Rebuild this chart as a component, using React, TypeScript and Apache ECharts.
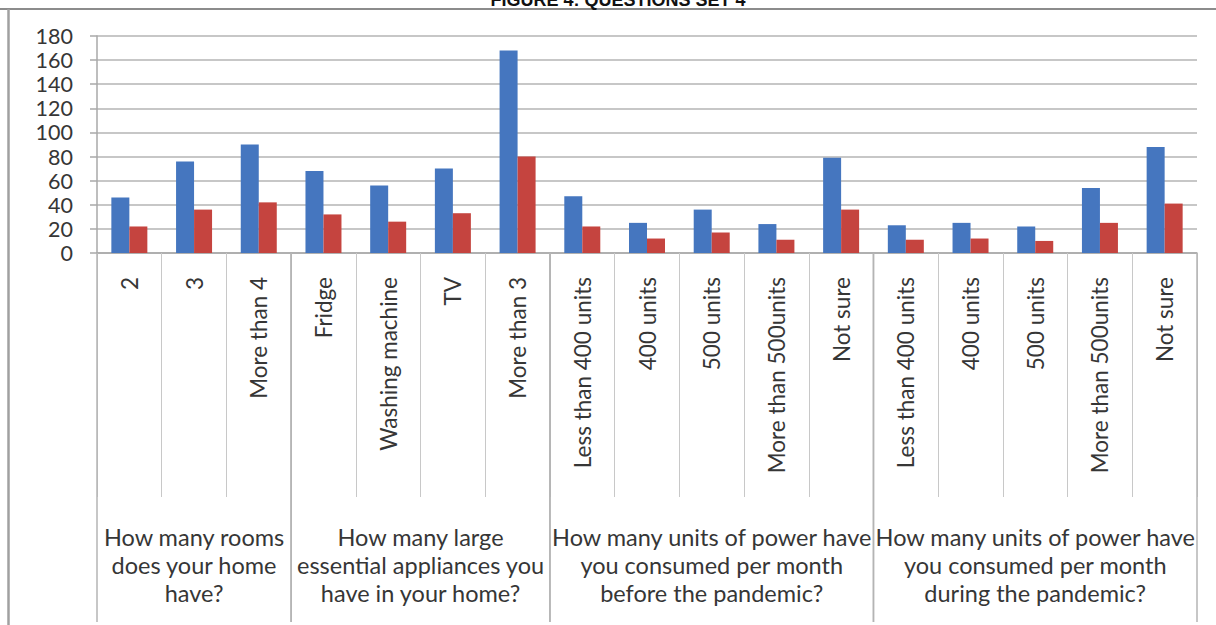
import React, { useEffect, useRef } from 'react';
import * as echarts from 'echarts';

// Answer options along the category axis
const answers = [
  '2', '3', 'More than 4',
  'Fridge', 'Washing machine', 'TV', 'More than 3',
  'Less than 400 units', '400 units', '500 units', 'More than 500units', 'Not sure',
  'Less than 400 units', '400 units', '500 units', 'More than 500units', 'Not sure',
];

// Response counts per answer
const series1Values = [46, 76, 90, 68, 56, 70, 168, 47, 25, 36, 24, 79, 23, 25, 22, 54, 88];
const series2Values = [22, 36, 42, 32, 26, 33, 80, 22, 12, 17, 11, 36, 11, 12, 10, 25, 41];

// Question groups: first and last answer index of each question
const groupRanges = [
  [0, 2],
  [3, 6],
  [7, 11],
  [12, 16],
];
const groupNames = [
  'How many rooms\ndoes your home\nhave?',
  'How many large\nessential appliances you\nhave in your home?',
  'How many units of power have\nyou consumed per month\nbefore the pandemic?',
  'How many units of power have\nyou consumed per month\nduring the pandemic?',
];

const yTicks = { min: 0, max: 180, interval: 20 };

const FONT = 'Lato, "Open Sans", sans-serif';
const TEXT_COLOR = '#363636';

export default function App() {
  const ref = useRef<HTMLDivElement>(null);

  useEffect(() => {
    document.body.style.margin = '0';
    if (!ref.current) return;
    const chart = echarts.init(ref.current, undefined, { renderer: 'svg' });

    chart.setOption({
      animation: false,
      backgroundColor: '#ffffff',
      grid: { left: 97, right: 19, top: 36, bottom: 372 },
      xAxis: {
        type: 'category',
        data: answers,
        axisLine: { lineStyle: { color: '#a8a8a8', width: 1.5 } },
        axisTick: { show: true, length: 244, lineStyle: { color: '#c8c8c8', width: 1 } },
        axisLabel: {
          interval: 0,
          rotate: 90,
          margin: 24,
          fontSize: 22.5,
          fontFamily: FONT,
          color: TEXT_COLOR,
        },
        splitLine: { show: false },
      },
      yAxis: {
        type: 'value',
        min: yTicks.min,
        max: yTicks.max,
        interval: yTicks.interval,
        axisLine: { show: true, lineStyle: { color: '#a8a8a8', width: 1.5 } },
        axisTick: { show: true, length: 7, lineStyle: { color: '#a8a8a8', width: 1.5 } },
        axisLabel: { fontSize: 21.5, margin: 24, fontFamily: FONT, color: TEXT_COLOR },
        splitLine: { lineStyle: { color: '#b4b4b4', width: 1.5 } },
      },
      series: [
        {
          name: 'Series1',
          type: 'bar',
          data: series1Values,
          barWidth: 18,
          barGap: '0%',
          itemStyle: { color: '#4576BF' },
        },
        {
          name: 'Series2',
          type: 'bar',
          data: series2Values,
          barWidth: 18,
          barGap: '0%',
          itemStyle: { color: '#C5443F' },
        },
        {
          // Question group separators and captions under the answer labels
          type: 'custom',
          clip: false,
          silent: true,
          data: groupRanges,
          encode: { x: 0, y: 1 },
          renderItem: (params: any, api: any) => {
            const s = api.value(0);
            const e = api.value(1);
            const band = api.size([1, 0])[0];
            const a = api.coord([s, 0]);
            const b = api.coord([e, 0]);
            const x0 = a[0] - band / 2;
            const x1 = b[0] + band / 2;
            const y = a[1];
            const bottom = y + 369;
            return {
              type: 'group',
              children: [
                { type: 'line', shape: { x1: x0, y1: y, x2: x0, y2: bottom }, style: { stroke: '#b4b4b4', lineWidth: 1.5 } },
                { type: 'line', shape: { x1: x1, y1: y, x2: x1, y2: bottom }, style: { stroke: '#b4b4b4', lineWidth: 1.5 } },
                {
                  type: 'text',
                  x: (x0 + x1) / 2,
                  y: y + 270,
                  style: {
                    text: groupNames[params.dataIndex],
                    fill: TEXT_COLOR,
                    fontSize: 23.5,
                    fontFamily: FONT,
                    align: 'center',
                    verticalAlign: 'top',
                    lineHeight: 28,
                  },
                },
              ],
            };
          },
        },
      ],
      graphic: [
        {
          type: 'line',
          shape: { x1: 0, y1: 9, x2: 1216, y2: 9 },
          style: { stroke: '#8c8c8c', lineWidth: 2 },
          silent: true,
        },
        {
          type: 'line',
          shape: { x1: 8.5, y1: 9, x2: 8.5, y2: 625 },
          style: { stroke: '#a0a0a0', lineWidth: 2.5 },
          silent: true,
        },
        {
          type: 'text',
          x: 618,
          y: 0,
          style: {
            text: 'FIGURE 4: QUESTIONS SET 4',
            fill: '#111111',
            font: 'bold 18px "Liberation Sans", Arial, sans-serif',
            align: 'center',
            verticalAlign: 'middle',
          },
          silent: true,
        },
      ],
    });

    return () => chart.dispose();
  }, []);

  return <div ref={ref} style={{ width: 1216, height: 625 }} />;
}
